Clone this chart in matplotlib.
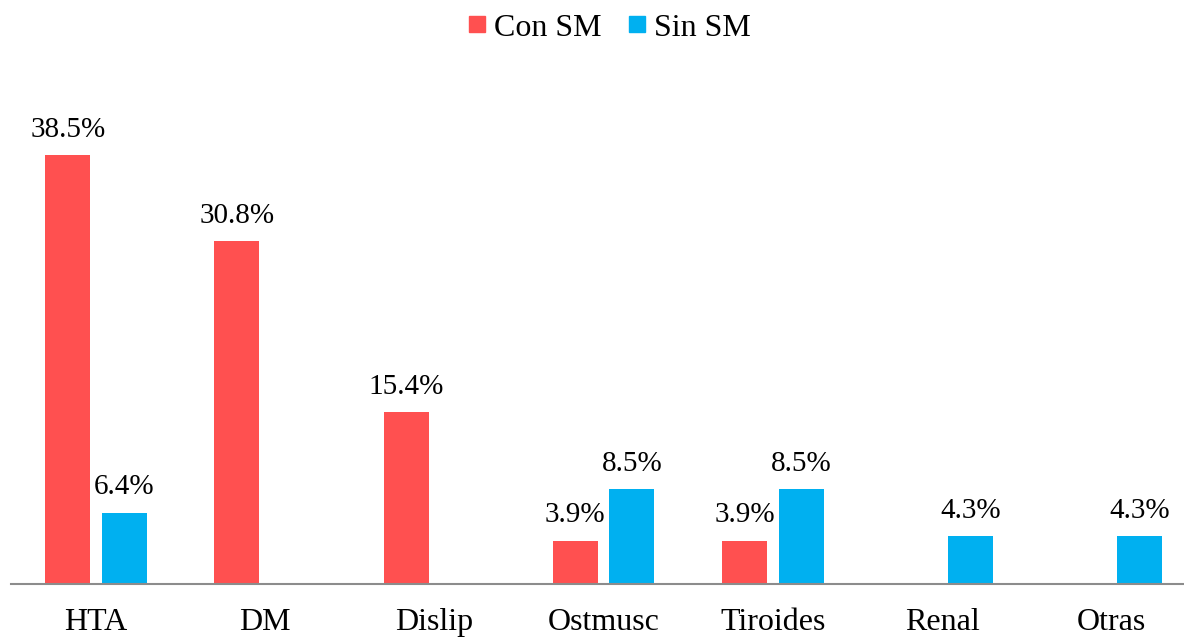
import numpy as np
import matplotlib.pyplot as plt
from matplotlib.lines import Line2D

categories = ['HTA', 'DM', 'Dislip', 'Ostmusc', 'Tiroides', 'Renal', 'Otras']
con_sm = [38.5, 30.8, 15.4, 3.9, 3.9, None, None]
sin_sm = [6.4, None, None, 8.5, 8.5, 4.3, 4.3]

red = '#FF5050'
blue = '#00B0F0'

plt.rcParams['font.family'] = ['Liberation Serif', 'DejaVu Serif']

fig = plt.figure(figsize=(11.84, 6.38), dpi=100)
ymax = 45
bottom_px = 638 - 584
scale = 11.14
ax = fig.add_axes([11.4 / 1184, bottom_px / 638, 1184.4 / 1184, ymax * scale / 638])

x = np.arange(len(categories))
w = 0.266
off = 0.167

for vals, dx, col in [(con_sm, -off, red), (sin_sm, off, blue)]:
    for xi, v in zip(x, vals):
        if v is None:
            continue
        ax.bar(xi + dx, v, width=w, color=col)
        ax.text(xi + dx, v + 1.1, f'{v:.1f}%', ha='center', va='bottom', fontsize=21)

ax.set_xlim(-0.5, len(categories) - 0.5)
ax.set_ylim(0, ymax)
ax.set_xticks(x)
ax.set_xticklabels(categories, fontsize=23)
ax.tick_params(axis='x', length=0, pad=17)
ax.set_yticks([])
for s in ['top', 'right', 'left']:
    ax.spines[s].set_visible(False)
ax.spines['bottom'].set_color('#8C8C8C')
ax.spines['bottom'].set_linewidth(1.5)

handles = [Line2D([], [], marker='s', linestyle='', color=red, markersize=12),
           Line2D([], [], marker='s', linestyle='', color=blue, markersize=12)]
fig.legend(handles, ['Con SM', 'Sin SM'], loc='center', bbox_to_anchor=(606 / 1184, 1 - 28 / 638),
           ncol=2, frameon=False, fontsize=23, handletextpad=0.05, columnspacing=0.6, handlelength=1)

fig.savefig('out.png', dpi=100)
